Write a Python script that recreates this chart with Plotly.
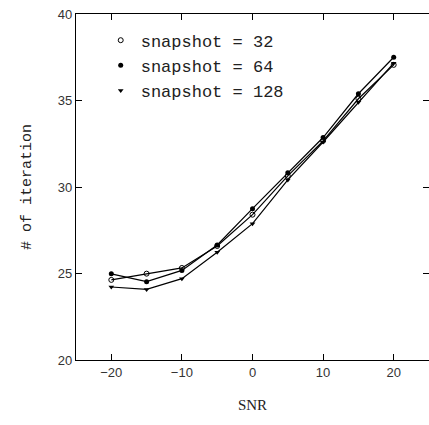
import plotly.graph_objects as go

snr = [-20, -15, -10, -5, 0, 5, 10, 15, 20]
snap32 = [24.63, 24.99, 25.32, 26.59, 28.40, 30.64, 32.67, 35.10, 37.06]
snap64 = [24.98, 24.53, 25.18, 26.65, 28.75, 30.83, 32.86, 35.39, 37.50]
snap128 = [24.22, 24.08, 24.70, 26.23, 27.88, 30.41, 32.60, 34.90, 37.16]
names = ["snapshot = 32", "snapshot = 64", "snapshot = 128"]
x_ticks = [-20, -10, 0, 10, 20]
x_ticktext = ["\u221220", "\u221210", "0", "10", "20"]
y_ticks = [20, 25, 30, 35, 40]

fig = go.Figure()
styles = [
    dict(symbol="circle-open", size=5, color="black", line=dict(width=1, color="black")),
    dict(symbol="circle", size=5, color="black"),
    dict(symbol="triangle-down", size=5, color="black"),
]
for name, ys, mk in zip(names, [snap32, snap64, snap128], styles):
    fig.add_trace(go.Scatter(x=snr, y=ys, mode="lines", showlegend=False,
                             line=dict(color="black", width=1.2), hoverinfo="skip"))
    fig.add_trace(go.Scatter(x=snr, y=ys, mode="markers", name=name, marker=mk))

axis_common = dict(showline=True, linecolor="black", linewidth=1.2, mirror="allticks",
                   ticks="inside", ticklen=6, tickcolor="black", tickwidth=1,
                   showgrid=False, zeroline=False,
                   tickfont=dict(family="Liberation Sans", size=13, color="#333"))
fig.update_xaxes(range=[-25, 25], tickvals=x_ticks, ticktext=x_ticktext,
                 title=dict(text="SNR", font=dict(family="Liberation Serif", size=15, color="#222"), standoff=20),
                 **axis_common)
fig.update_yaxes(range=[20, 40], tickvals=y_ticks,
                 title=dict(text="# of iteration", font=dict(family="Liberation Mono", size=15, color="#222"), standoff=22),
                 **axis_common)
fig.update_layout(
    width=429, height=425,
    margin=dict(l=76, r=0, t=14, b=65),
    plot_bgcolor="white", paper_bgcolor="white",
    showlegend=True,
    legend=dict(x=0.07, y=0.975, xanchor="left", yanchor="top", bgcolor="rgba(0,0,0,0)",
                font=dict(family="Liberation Mono", size=17, color="#222"),
                itemwidth=30, tracegroupgap=0),
)
fig.write_html("out.html", config={"displayModeBar": False},
               post_script="document.body.style.margin='0';document.body.style.overflow='hidden';")
